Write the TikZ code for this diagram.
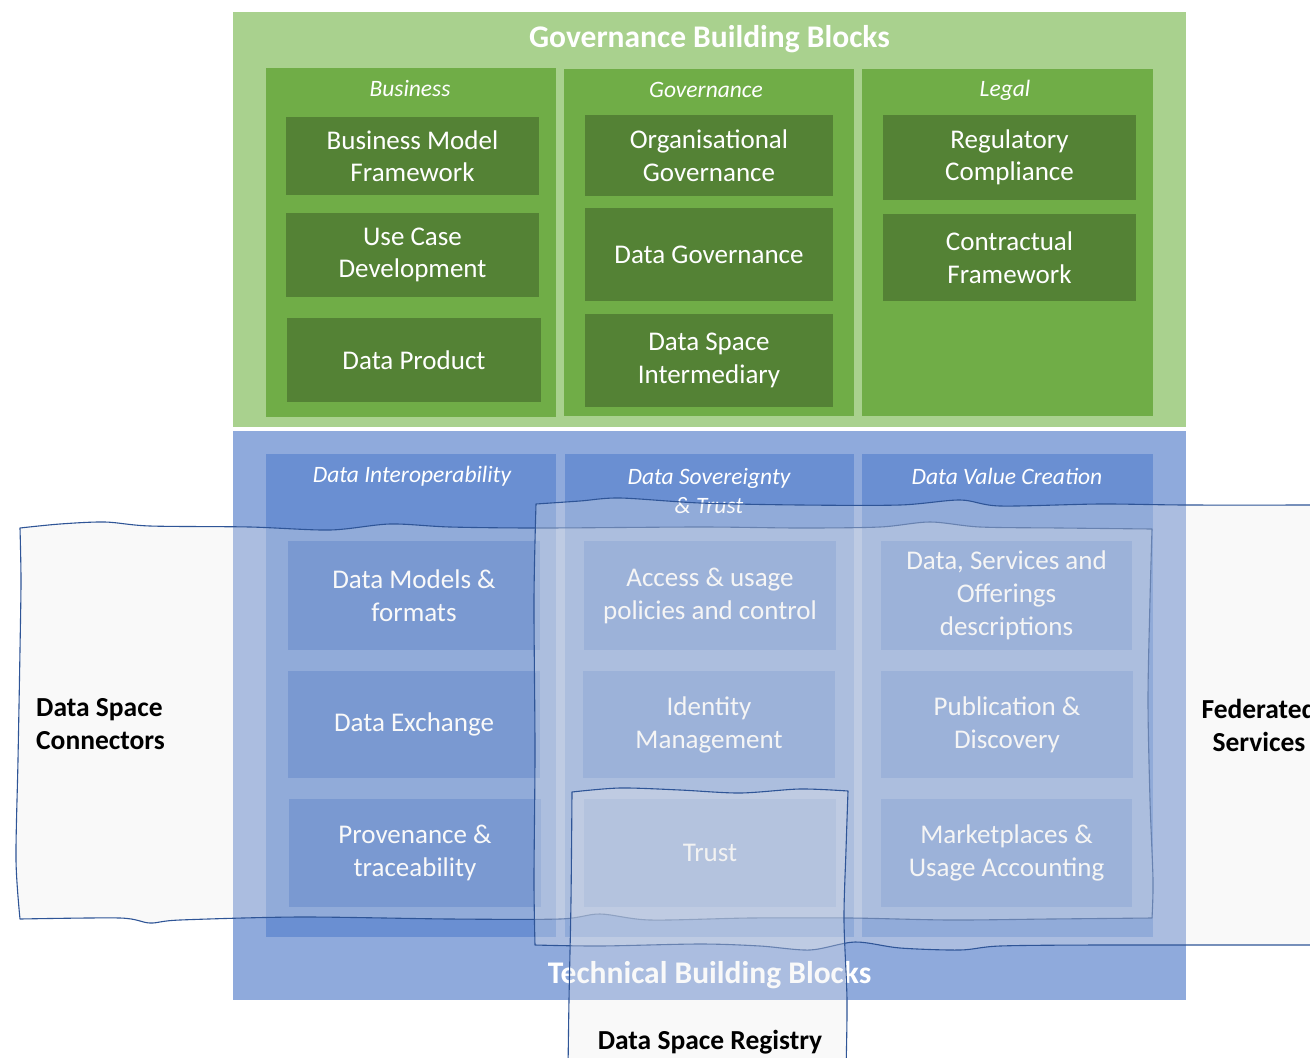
\documentclass[tikz,border=0pt]{standalone}
\usepackage{fontspec}
\setmainfont{Carlito}
\definecolor{glight}{HTML}{A9D18E}
\definecolor{gmid}{HTML}{70AD47}
\definecolor{gdark}{HTML}{548235}
\definecolor{blight}{HTML}{8FAADC}
\definecolor{bmid}{HTML}{6A8FD2}
\definecolor{bdark}{HTML}{4A76C6}
\definecolor{olay}{HTML}{ECECEC}
\definecolor{oline}{HTML}{2F5597}
\begin{document}
\begin{tikzpicture}[x=1pt,y=-1pt,
  blk/.style={fill=#1, draw=none, inner sep=0pt, outer sep=0pt},
  gbox/.style={blk=gdark, text=white, align=center, font=\fontsize{27}{32.5}\selectfont},
  bbox/.style={blk=bdark, text=white, align=center, font=\fontsize{27}{33}\selectfont},
  hdr/.style={text=white, align=center, inner sep=0pt, font=\fontsize{23.5}{29}\selectfont\itshape},
  ttl/.style={text=white, inner sep=0pt, font=\fontsize{31.5}{36}\selectfont\bfseries},
  ovl/.style={fill=olay, fill opacity=0.3, draw=oline, line width=1.1pt, line join=round},
  olbl/.style={text=black, inner sep=0pt, font=\fontsize{27.5}{33}\selectfont\bfseries}]
\path[use as bounding box, clip] (0,0) rectangle (1310,1058);
\fill[white] (0,0) rectangle (1310,1058);
% ---------- governance ----------
\node[blk=glight, minimum width=953pt, minimum height=415pt] (gov) at (709.5,219.5) {};
\node[ttl] (govt) at (709.5,39) {Governance Building Blocks};
\node[blk=gmid, minimum width=290pt, minimum height=349pt] (colbus) at (411,242) {};
\node[blk=gmid, minimum width=290pt, minimum height=347pt] (colgov) at (709,242.5) {};
\node[blk=gmid, minimum width=291pt, minimum height=347pt] (colleg) at (1007.5,242.5) {};
\node[hdr] (hbus) at (410,88) {Business};
\node[hdr] (hgov) at (706,90) {Governance};
\node[hdr] (hleg) at (1005,90) {Legal};
\node[gbox, minimum width=253pt, minimum height=78pt] (bmf) at (412.5,156) {Business Model\\Framework};
\node[gbox, minimum width=253pt, minimum height=84pt] (ucd) at (412.5,255) {Use Case\\Development};
\node[gbox, minimum width=254pt, minimum height=84pt] (dp) at (414,360) {Data Product};
\node[gbox, minimum width=248pt, minimum height=81pt] (og) at (709,155.5) {Organisational\\Governance};
\node[gbox, minimum width=248pt, minimum height=93pt] (dg) at (709,254.5) {Data Governance};
\node[gbox, minimum width=248pt, minimum height=93pt] (dsi) at (709,360.5) {Data Space\\Intermediary};
\node[gbox, minimum width=253pt, minimum height=85pt] (rc) at (1009.5,157.5) {Regulatory\\Compliance};
\node[gbox, minimum width=253pt, minimum height=87pt] (cf) at (1009.5,257.5) {Contractual\\Framework};
% ---------- technical ----------
\node[blk=blight, minimum width=953pt, minimum height=569pt] (tech) at (709.5,715.5) {};
\node[blk=bmid, minimum width=290pt, minimum height=483pt] (colint) at (411,695.5) {};
\node[blk=bmid, minimum width=289pt, minimum height=483pt] (colsov) at (709.5,695.5) {};
\node[blk=bmid, minimum width=291pt, minimum height=483pt] (colval) at (1007.5,695.5) {};
\node[hdr] (hint) at (412,476) {Data Interoperability};
\node[hdr] (hsov) at (709,490.5) {Data Sovereignty\\\& Trust};
\node[hdr] (hval) at (1007,476) {Data Value Creation};
\node[bbox, minimum width=252pt, minimum height=109pt] (dmf) at (414,595.5) {Data Models \&\\formats};
\node[bbox, minimum width=252pt, minimum height=107pt] (dex) at (414,724.5) {Data Exchange};
\node[bbox, minimum width=252pt, minimum height=108pt] (prov) at (415,853) {Provenance \&\\traceability};
\node[bbox, minimum width=252pt, minimum height=109pt] (aup) at (710,595.5) {Access \& usage\\policies and control};
\node[bbox, minimum width=252pt, minimum height=107pt] (idm) at (709,724.5) {Identity\\Management};
\node[bbox, minimum width=252pt, minimum height=108pt] (tru) at (710,853) {Trust};
\node[bbox, minimum width=251pt, minimum height=109pt] (dso) at (1006.5,595.5) {Data, Services and\\Offerings\\descriptions};
\node[bbox, minimum width=252pt, minimum height=107pt] (pub) at (1007,724.5) {Publication \&\\Discovery};
\node[bbox, minimum width=251pt, minimum height=108pt] (mkt) at (1006.5,853) {Marketplaces \&\\Usage Accounting};
\node[ttl] (techt) at (709.5,975) {Technical Building Blocks};
% ---------- overlays ----------
\filldraw[ovl] plot[smooth,tension=0.5] coordinates {(20,528) (60,524) (105,522) (150,526) (250,527) (330,530) (390,524) (450,527) (540,528) (700,527) (800,528) (880,527) (930,522) (980,527) (1060,528) (1152,529)}
  -- plot[smooth,tension=0.5] coordinates {(1152,529) (1150,600) (1148,700) (1150,800) (1153,880) (1152,918)}
  -- plot[smooth,tension=0.5] coordinates {(1152,918) (1050,919) (950,920) (850,918) (750,918) (650,920) (600,914) (560,919) (450,919) (300,917) (180,920) (150,923) (120,918) (20,919)}
  -- plot[smooth,tension=0.5] coordinates {(20,919) (16,860) (18,760) (20,650) (21,580) (20,528)} -- cycle;
\filldraw[ovl] plot[smooth,tension=0.5] coordinates {(1330,505) (1186,505) (1100,504) (1000,506) (960,500) (900,505) (800,505) (700,503) (620,498) (580,501) (536,504)}
  -- plot[smooth,tension=0.5] coordinates {(536,504) (534,600) (535,750) (534,880) (535,945)}
  -- plot[smooth,tension=0.5] coordinates {(535,945) (600,946) (700,944) (760,946) (810,950) (855,942) (900,948) (960,950) (1000,946) (1100,945) (1330,945)}
  -- cycle;
\filldraw[ovl] plot[smooth,tension=0.5] coordinates {(572,792) (620,788) (680,790) (740,793) (800,789) (848,791)}
  -- plot[smooth,tension=0.5] coordinates {(848,791) (846,850) (844,920) (847,1000) (846,1070)}
  -- (568,1070)
  -- plot[smooth,tension=0.5] coordinates {(568,1070) (569,1000) (571,900) (572,792)} -- cycle;
% ---------- overlay labels ----------
\node[olbl, anchor=west, align=left] (dsc) at (36,724) {Data Space\\Connectors};
\node[olbl, align=center] (fed) at (1259,725) {Federated\\Services};
\node[olbl] (reg) at (710,1042) {Data Space Registry};
\end{tikzpicture}
\end{document}
